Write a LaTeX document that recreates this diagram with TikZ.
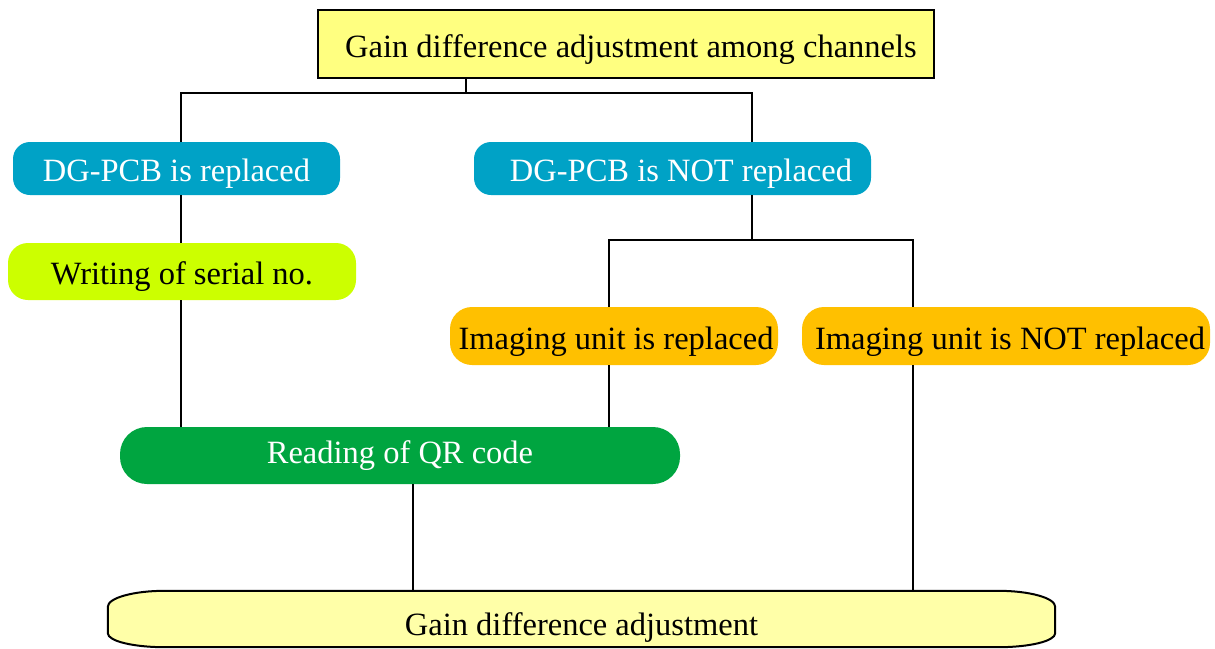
\documentclass[tikz,border=0pt]{standalone}
\usepackage{fontspec}
\setmainfont{Liberation Serif}
\usetikzlibrary{backgrounds}
\definecolor{topyel}{RGB}{255,255,128}
\definecolor{botyel}{RGB}{255,255,168}
\definecolor{dgblue}{RGB}{0,162,198}
\definecolor{sergreen}{RGB}{204,255,0}
\definecolor{imorange}{RGB}{255,192,0}
\definecolor{qrgreen}{RGB}{0,165,64}
\tikzset{
  txt/.style={font=\fontsize{32.5}{38}\selectfont, inner sep=0pt, anchor=center, text height=26pt, text depth=0pt},
  topbox/.style={txt, draw=black, line width=2pt, fill=topyel},
  dgbox/.style={txt, fill=dgblue, text=white, rounded corners=17pt},
  serbox/.style={txt, fill=sergreen, rounded corners=20pt},
  imbox/.style={txt, fill=imorange, rounded corners=22pt},
  qrbox/.style={txt, fill=qrgreen, text=white, rounded corners=27pt, text height=15pt},
  botbox/.style={txt, text height=32pt},
  conn/.style={draw=black, line width=1.5pt}
}
\begin{document}
\begin{tikzpicture}[x=1pt,y=-1pt]
\useasboundingbox (0,0) rectangle (1215,648);
% nodes
\node[topbox, minimum width=616, minimum height=68] (top) at (626,44) {\hspace{10pt}Gain difference adjustment among channels};
\node[dgbox, minimum width=327, minimum height=53] (dgr) at (176.5,168.5) {DG-PCB is replaced};
\node[dgbox, minimum width=397, minimum height=53] (dgn) at (672.5,168.5) {\hspace{17pt}DG-PCB is NOT replaced};
\node[serbox, minimum width=348, minimum height=57] (ser) at (182,271.5) {Writing of serial no.};
\node[imbox, minimum width=328, minimum height=58] (imr) at (614,336) {\hspace{4pt}Imaging unit is replaced};
\node[imbox, minimum width=408, minimum height=58] (imn) at (1006,336) {\hspace{8pt}Imaging unit is NOT replaced};
\node[qrbox, minimum width=560, minimum height=57] (qr) at (400,455.5) {Reading of QR code};
\node[botbox, minimum width=947, minimum height=56] (bot) at (581.5,619) {Gain difference adjustment};
\begin{scope}[on background layer]
  \path[draw=black, line width=2pt, fill=botyel]
    ([xshift=57pt]bot.north west) -- ([xshift=-57pt]bot.north east)
    .. controls ([xshift=-26pt]bot.north east) and ([yshift=-7pt]bot.north east) .. ([yshift=-16pt]bot.north east)
    -- ([yshift=14pt]bot.south east)
    .. controls ([yshift=6pt]bot.south east) and ([xshift=-26pt]bot.south east) .. ([xshift=-57pt]bot.south east)
    -- ([xshift=57pt]bot.south west)
    .. controls ([xshift=26pt]bot.south west) and ([yshift=6pt]bot.south west) .. ([yshift=14pt]bot.south west)
    -- ([yshift=-16pt]bot.north west)
    .. controls ([yshift=-7pt]bot.north west) and ([xshift=26pt]bot.north west) .. ([xshift=57pt]bot.north west)
    -- cycle;
\end{scope}
% junction coordinates
\coordinate (j1) at (466,93);
\coordinate (j2) at (752,240);
\coordinate (xL) at (181,0);
\coordinate (xR) at (752,0);
\coordinate (xIR) at (609,0);
\coordinate (xIN) at (913,0);
\coordinate (xQ) at (413,0);
% connectors
\draw[conn] (top.south -| j1) -- (j1);
\draw[conn] (dgr.north -| xL) |- (j1) -| (dgn.north -| xR);
\draw[conn] (dgr.south -| xL) -- (ser.north -| xL);
\draw[conn] (ser.south -| xL) -- (qr.north -| xL);
\draw[conn] (dgn.south -| xR) -- (j2);
\draw[conn] (imr.north -| xIR) |- (j2) -| (imn.north -| xIN);
\draw[conn] (imr.south -| xIR) -- (qr.north -| xIR);
\draw[conn] (imn.south -| xIN) -- (bot.north -| xIN);
\draw[conn] (qr.south -| xQ) -- (bot.north -| xQ);
\end{tikzpicture}
\end{document}
